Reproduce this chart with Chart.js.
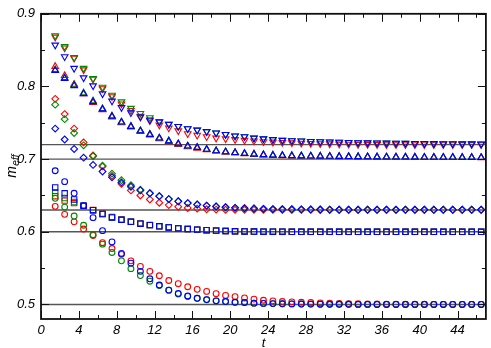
<!DOCTYPE html>
<html>
<head>
<meta charset="utf-8">
<script src="https://cdn.jsdelivr.net/npm/chart.js@4/dist/chart.umd.min.js"></script>
<style>
  html, body { margin: 0; padding: 0; background: #fff; }
  #wrap { width: 491px; height: 348px; }
</style>
</head>
<body>
<div id="wrap"><canvas id="chart" width="491" height="348"></canvas></div>
<script>
// time slices (markers sit half way between integer t)
const tValues = [1.5, 2.5, 3.5, 4.5, 5.5, 6.5, 7.5, 8.5, 9.5, 10.5,
    11.5, 12.5, 13.5, 14.5, 15.5, 16.5, 17.5, 18.5, 19.5, 20.5,
    21.5, 22.5, 23.5, 24.5, 25.5, 26.5, 27.5, 28.5, 29.5, 30.5,
    31.5, 32.5, 33.5, 34.5, 35.5, 36.5, 37.5, 38.5, 39.5, 40.5,
    41.5, 42.5, 43.5, 44.5, 45.5, 46.5];

const xTickValues = [0, 4, 8, 12, 16, 20, 24, 28, 32, 36, 40, 44];
const xMinorValues = [2, 6, 10, 14, 18, 22, 26, 30, 34, 38, 42, 46];
const yTickValues = [0.5, 0.6, 0.7, 0.8, 0.9];
const yMinorValues = [0.55, 0.65, 0.75, 0.85];

// plateau values (horizontal reference lines)
const plateaus = [0.72, 0.70, 0.63, 0.60, 0.50];

// triangles down -> 0.72
const redDown = [0.868, 0.853, 0.839, 0.823, 0.810, 0.797, 0.786, 0.776, 0.767, 0.759,
    0.753, 0.747, 0.743, 0.739, 0.735, 0.733, 0.731, 0.729, 0.728, 0.727,
    0.726, 0.725, 0.724, 0.7235, 0.723, 0.7225, 0.722, 0.7217, 0.7214, 0.7211,
    0.7208, 0.7206, 0.7204, 0.7202, 0.7201, 0.720, 0.720, 0.720, 0.720, 0.720,
    0.720, 0.720, 0.720, 0.720, 0.720, 0.720];
const greenDown = [0.870, 0.855, 0.840, 0.825, 0.811, 0.799, 0.788, 0.779, 0.770, 0.763,
    0.757, 0.752, 0.748, 0.745, 0.742, 0.740, 0.738, 0.736, 0.734, 0.732,
    0.731, 0.729, 0.728, 0.727, 0.726, 0.7255, 0.725, 0.7245, 0.724, 0.7237,
    0.7233, 0.723, 0.7227, 0.7225, 0.7223, 0.7221, 0.722, 0.7218, 0.7217, 0.7216,
    0.7215, 0.7214, 0.7213, 0.7212, 0.7211, 0.721];
const blueDown = [0.857, 0.841, 0.825, 0.812, 0.801, 0.790, 0.780, 0.771, 0.764, 0.758,
    0.754, 0.751, 0.748, 0.745, 0.742, 0.740, 0.738, 0.736, 0.734, 0.732,
    0.731, 0.729, 0.728, 0.727, 0.726, 0.7255, 0.725, 0.7245, 0.724, 0.7237,
    0.7233, 0.723, 0.7227, 0.7225, 0.7223, 0.7221, 0.722, 0.7218, 0.7217, 0.7216,
    0.7215, 0.7214, 0.7213, 0.7212, 0.7211, 0.721];

// triangles up -> 0.70
const redUp = [0.8275, 0.815, 0.803, 0.790, 0.778, 0.768, 0.758, 0.750, 0.744, 0.738,
    0.733, 0.728, 0.724, 0.720, 0.717, 0.715, 0.7128, 0.711, 0.7095, 0.7085,
    0.7073, 0.7064, 0.7056, 0.705, 0.7046, 0.7043, 0.704, 0.7038, 0.7036, 0.7034,
    0.7032, 0.7031, 0.703, 0.7029, 0.7028, 0.7027, 0.7026, 0.7025, 0.7024, 0.7023,
    0.7023, 0.7022, 0.7022, 0.7021, 0.7021, 0.702];
const greenUp = [0.823, 0.812, 0.802, 0.791, 0.780, 0.769, 0.759, 0.751, 0.745, 0.739,
    0.734, 0.729, 0.725, 0.721, 0.718, 0.716, 0.7135, 0.7115, 0.710, 0.709,
    0.7078, 0.7068, 0.706, 0.7054, 0.705, 0.7047, 0.7044, 0.7042, 0.704, 0.7038,
    0.7036, 0.7034, 0.7033, 0.7032, 0.703, 0.7029, 0.7028, 0.7027, 0.7026, 0.7025,
    0.7025, 0.7024, 0.7024, 0.7023, 0.7023, 0.7022];
const blueUp = [0.822, 0.811, 0.801, 0.790, 0.779, 0.769, 0.759, 0.751, 0.745, 0.739,
    0.734, 0.729, 0.725, 0.721, 0.718, 0.716, 0.7135, 0.7115, 0.710, 0.709,
    0.7078, 0.7068, 0.706, 0.7054, 0.705, 0.7047, 0.7044, 0.7042, 0.704, 0.7038,
    0.7036, 0.7034, 0.7033, 0.7032, 0.703, 0.7029, 0.7028, 0.7027, 0.7026, 0.7025,
    0.7025, 0.7024, 0.7024, 0.7023, 0.7023, 0.7022];

// diamonds -> 0.63
const redDia = [0.783, 0.762, 0.742, 0.723, 0.705, 0.690, 0.677, 0.666, 0.657, 0.650,
    0.6445, 0.640, 0.6368, 0.6345, 0.6328, 0.6318, 0.631, 0.6306, 0.6304, 0.6303,
    0.6302, 0.6302, 0.6302, 0.6301, 0.6301, 0.6301, 0.6301, 0.6301, 0.630, 0.630,
    0.630, 0.630, 0.630, 0.630, 0.630, 0.630, 0.630, 0.630, 0.630, 0.630,
    0.630, 0.630, 0.630, 0.630, 0.630, 0.630];
const greenDia = [0.775, 0.755, 0.736, 0.719, 0.704, 0.691, 0.680, 0.671, 0.664, 0.658,
    0.653, 0.649, 0.645, 0.642, 0.6395, 0.6375, 0.636, 0.6348, 0.6338, 0.633,
    0.6324, 0.632, 0.6316, 0.6313, 0.6311, 0.631, 0.6309, 0.6308, 0.6307, 0.6306,
    0.6305, 0.6305, 0.6305, 0.6305, 0.6305, 0.6305, 0.6305, 0.6305, 0.6305, 0.6305,
    0.6305, 0.6305, 0.6305, 0.6305, 0.6305, 0.6305];
const blueDia = [0.742, 0.727, 0.714, 0.702, 0.692, 0.683, 0.675, 0.668, 0.662, 0.657,
    0.653, 0.649, 0.645, 0.642, 0.6395, 0.6375, 0.636, 0.6348, 0.6338, 0.633,
    0.6324, 0.632, 0.6316, 0.6313, 0.6311, 0.631, 0.6309, 0.6308, 0.6307, 0.6306,
    0.6305, 0.6305, 0.6305, 0.6305, 0.6305, 0.6305, 0.6305, 0.6305, 0.6305, 0.6305,
    0.6305, 0.6305, 0.6305, 0.6305, 0.6305, 0.6305];

// squares -> 0.60
const redSq = [0.649, 0.643, 0.6396, 0.6355, 0.630, 0.625, 0.6205, 0.617, 0.614, 0.6115,
    0.6095, 0.6078, 0.6063, 0.605, 0.604, 0.603, 0.6023, 0.6017, 0.6012, 0.6008,
    0.6005, 0.6003, 0.6002, 0.6001, 0.6001, 0.600, 0.600, 0.600, 0.600, 0.600,
    0.600, 0.600, 0.600, 0.600, 0.600, 0.600, 0.600, 0.600, 0.600, 0.600,
    0.600, 0.600, 0.600, 0.600, 0.600, 0.600];
const greenSq = [0.654, 0.6465, 0.641, 0.636, 0.6297, 0.6245, 0.6198, 0.6165, 0.6137, 0.6112,
    0.6092, 0.6075, 0.606, 0.6047, 0.6038, 0.603, 0.6022, 0.6016, 0.601, 0.6007,
    0.6005, 0.6003, 0.6002, 0.6001, 0.6001, 0.600, 0.600, 0.600, 0.600, 0.600,
    0.600, 0.600, 0.600, 0.600, 0.600, 0.600, 0.600, 0.600, 0.600, 0.600,
    0.600, 0.600, 0.600, 0.600, 0.600, 0.600];
const blueSq = [0.661, 0.653, 0.6445, 0.636, 0.6297, 0.6245, 0.6198, 0.6165, 0.6137, 0.6112,
    0.6092, 0.6075, 0.606, 0.6047, 0.6038, 0.603, 0.6022, 0.6016, 0.601, 0.6007,
    0.6005, 0.6003, 0.6002, 0.6001, 0.6001, 0.600, 0.600, 0.600, 0.600, 0.600,
    0.600, 0.600, 0.600, 0.600, 0.600, 0.600, 0.600, 0.600, 0.600, 0.600,
    0.600, 0.600, 0.600, 0.600, 0.600, 0.600];

// circles -> 0.50
const redCirc = [0.635, 0.624, 0.6137, 0.6038, 0.595, 0.585, 0.577, 0.569, 0.560, 0.5523,
    0.5456, 0.5395, 0.533, 0.5286, 0.5244, 0.5208, 0.518, 0.5148, 0.5125, 0.5108,
    0.509, 0.5074, 0.5058, 0.505, 0.504, 0.5036, 0.503, 0.5027, 0.5022, 0.5018,
    0.5015, 0.5012, 0.501, 0.5008, 0.5006, 0.5005, 0.5004, 0.5003, 0.5002, 0.5002,
    0.5001, 0.5001, 0.500, 0.500, 0.500, 0.500];
const greenCirc = [0.646, 0.634, 0.6217, 0.609, 0.596, 0.583, 0.5716, 0.560, 0.5493, 0.5398,
    0.532, 0.526, 0.5195, 0.5145, 0.511, 0.5085, 0.5065, 0.505, 0.504, 0.503,
    0.5027, 0.5018, 0.5015, 0.5012, 0.501, 0.5008, 0.5006, 0.5005, 0.5004, 0.5003,
    0.5002, 0.5002, 0.5001, 0.5001, 0.500, 0.500, 0.500, 0.500, 0.500, 0.500,
    0.500, 0.500, 0.500, 0.500, 0.500, 0.500];
const blueCirc = [0.684, 0.669, 0.653, 0.636, 0.6195, 0.6016, 0.586, 0.5702, 0.5568, 0.5456,
    0.5353, 0.5268, 0.5197, 0.5152, 0.5117, 0.5085, 0.5067, 0.505, 0.504, 0.503,
    0.5027, 0.5018, 0.5015, 0.5012, 0.501, 0.5008, 0.5006, 0.5005, 0.5004, 0.5003,
    0.5002, 0.5002, 0.5001, 0.5001, 0.500, 0.500, 0.500, 0.500, 0.500, 0.500,
    0.500, 0.500, 0.500, 0.500, 0.500, 0.500];

const colors = { red: '#ff0000', green: '#008a00', blue: '#0000ff' };
const FONT = "'Liberation Sans', Arial, Helvetica, sans-serif";

// marker looks per shape
const shapes = {
    down: { pointStyle: 'triangle', rotation: 180, radius: 3.8 },
    up:   { pointStyle: 'triangle', rotation: 0, radius: 3.8 },
    dia:  { pointStyle: 'rectRot', rotation: 0, radius: 3.4 },
    sq:   { pointStyle: 'rect', rotation: 0, radius: 3.8 },
    circ: { pointStyle: 'circle', rotation: 0, radius: 2.9 }
};

function makeSeries(label, values, color, shape, order) {
    const s = shapes[shape];
    return {
        label: label,
        data: values.map((v, i) => ({ x: tValues[i], y: v })),
        showLine: false,
        pointStyle: s.pointStyle,
        pointRotation: s.rotation,
        pointRadius: s.radius,
        pointBorderWidth: 1.1,
        pointBorderColor: colors[color],
        pointBackgroundColor: 'rgba(0,0,0,0)',
        borderColor: colors[color],
        backgroundColor: 'rgba(0,0,0,0)',
        order: order
    };
}

// blue on top, then green, then red; reference lines underneath
const datasets = [
    makeSeries('blue down', blueDown, 'blue', 'down', 0),
    makeSeries('blue up', blueUp, 'blue', 'up', 0),
    makeSeries('blue dia', blueDia, 'blue', 'dia', 0),
    makeSeries('blue sq', blueSq, 'blue', 'sq', 0),
    makeSeries('blue circ', blueCirc, 'blue', 'circ', 0),
    makeSeries('green down', greenDown, 'green', 'down', 1),
    makeSeries('green up', greenUp, 'green', 'up', 1),
    makeSeries('green dia', greenDia, 'green', 'dia', 1),
    makeSeries('green sq', greenSq, 'green', 'sq', 1),
    makeSeries('green circ', greenCirc, 'green', 'circ', 1),
    makeSeries('red down', redDown, 'red', 'down', 2),
    makeSeries('red up', redUp, 'red', 'up', 2),
    makeSeries('red dia', redDia, 'red', 'dia', 2),
    makeSeries('red sq', redSq, 'red', 'sq', 2),
    makeSeries('red circ', redCirc, 'red', 'circ', 2)
];
plateaus.forEach(p => {
    datasets.push({
        label: 'plateau ' + p,
        data: [{ x: 0, y: p }, { x: 47, y: p }],
        showLine: true,
        borderColor: '#555',
        borderWidth: 1.4,
        pointRadius: 0,
        order: 10
    });
});

// frame + inward ticks on all four sides, plus the m_eff label
const frameTicks = {
    id: 'frameTicks',
    afterDraw(chart) {
        const { ctx, chartArea: a, scales: { x, y } } = chart;
        ctx.save();
        ctx.strokeStyle = '#111';
        ctx.lineWidth = 1;
        ctx.beginPath();
        const tick = (px, len, vertical) => {
            if (vertical) {
                ctx.moveTo(px, a.bottom); ctx.lineTo(px, a.bottom - len);
                ctx.moveTo(px, a.top); ctx.lineTo(px, a.top + len);
            } else {
                ctx.moveTo(a.left, px); ctx.lineTo(a.left + len, px);
                ctx.moveTo(a.right, px); ctx.lineTo(a.right - len, px);
            }
        };
        xTickValues.forEach(v => tick(Math.round(x.getPixelForValue(v)) + 0.5, 8, true));
        xMinorValues.forEach(v => tick(Math.round(x.getPixelForValue(v)) + 0.5, 4, true));
        yTickValues.forEach(v => tick(Math.round(y.getPixelForValue(v)) + 0.5, 8, false));
        yMinorValues.forEach(v => tick(Math.round(y.getPixelForValue(v)) + 0.5, 4, false));
        ctx.stroke();

        ctx.lineWidth = 1.8;
        ctx.strokeRect(a.left, a.top, a.right - a.left, a.bottom - a.top);

        // y title: m with subscript eff
        ctx.translate(12, (a.top + a.bottom) / 2);
        ctx.rotate(-Math.PI / 2);
        ctx.fillStyle = '#000';
        ctx.textBaseline = 'alphabetic';
        ctx.font = 'italic 14px ' + FONT;
        const mW = ctx.measureText('m').width;
        ctx.font = 'italic 10px ' + FONT;
        const eW = ctx.measureText('eff').width;
        const x0 = -(mW + eW) / 2;
        ctx.font = 'italic 14px ' + FONT;
        ctx.fillText('m', x0, 4);
        ctx.font = 'italic 10px ' + FONT;
        ctx.fillText('eff', x0 + mW + 0.5, 7);
        ctx.restore();
    }
};

new Chart(document.getElementById('chart'), {
    type: 'scatter',
    data: { datasets: datasets },
    options: {
        responsive: false,
        animation: false,
        layout: { padding: { top: 6, right: 2, left: 0, bottom: 0 } },
        plugins: { legend: { display: false }, tooltip: { enabled: false } },
        scales: {
            x: {
                type: 'linear',
                min: 0,
                max: 47,
                afterBuildTicks: s => { s.ticks = xTickValues.map(v => ({ value: v })); },
                afterFit: s => { s.height = 29; },
                grid: { display: false, drawTicks: false },
                border: { display: false },
                ticks: {
                    padding: 4,
                    color: '#000',
                    font: { family: FONT, size: 13, style: 'italic' },
                    callback: v => String(v)
                },
                title: {
                    display: true,
                    text: 't',
                    color: '#000',
                    font: { family: FONT, size: 13, style: 'italic' },
                    padding: { top: 0, bottom: -3 }
                }
            },
            y: {
                type: 'linear',
                min: 0.48,
                max: 0.9,
                afterBuildTicks: s => { s.ticks = yTickValues.map(v => ({ value: v })); },
                afterFit: s => { s.width = 41; },
                grid: { display: false, drawTicks: false },
                border: { display: false },
                ticks: {
                    padding: 6,
                    color: '#000',
                    font: { family: FONT, size: 13, style: 'italic' },
                    callback: v => v.toFixed(1)
                }
            }
        }
    },
    plugins: [frameTicks]
});
</script>
</body>
</html>
